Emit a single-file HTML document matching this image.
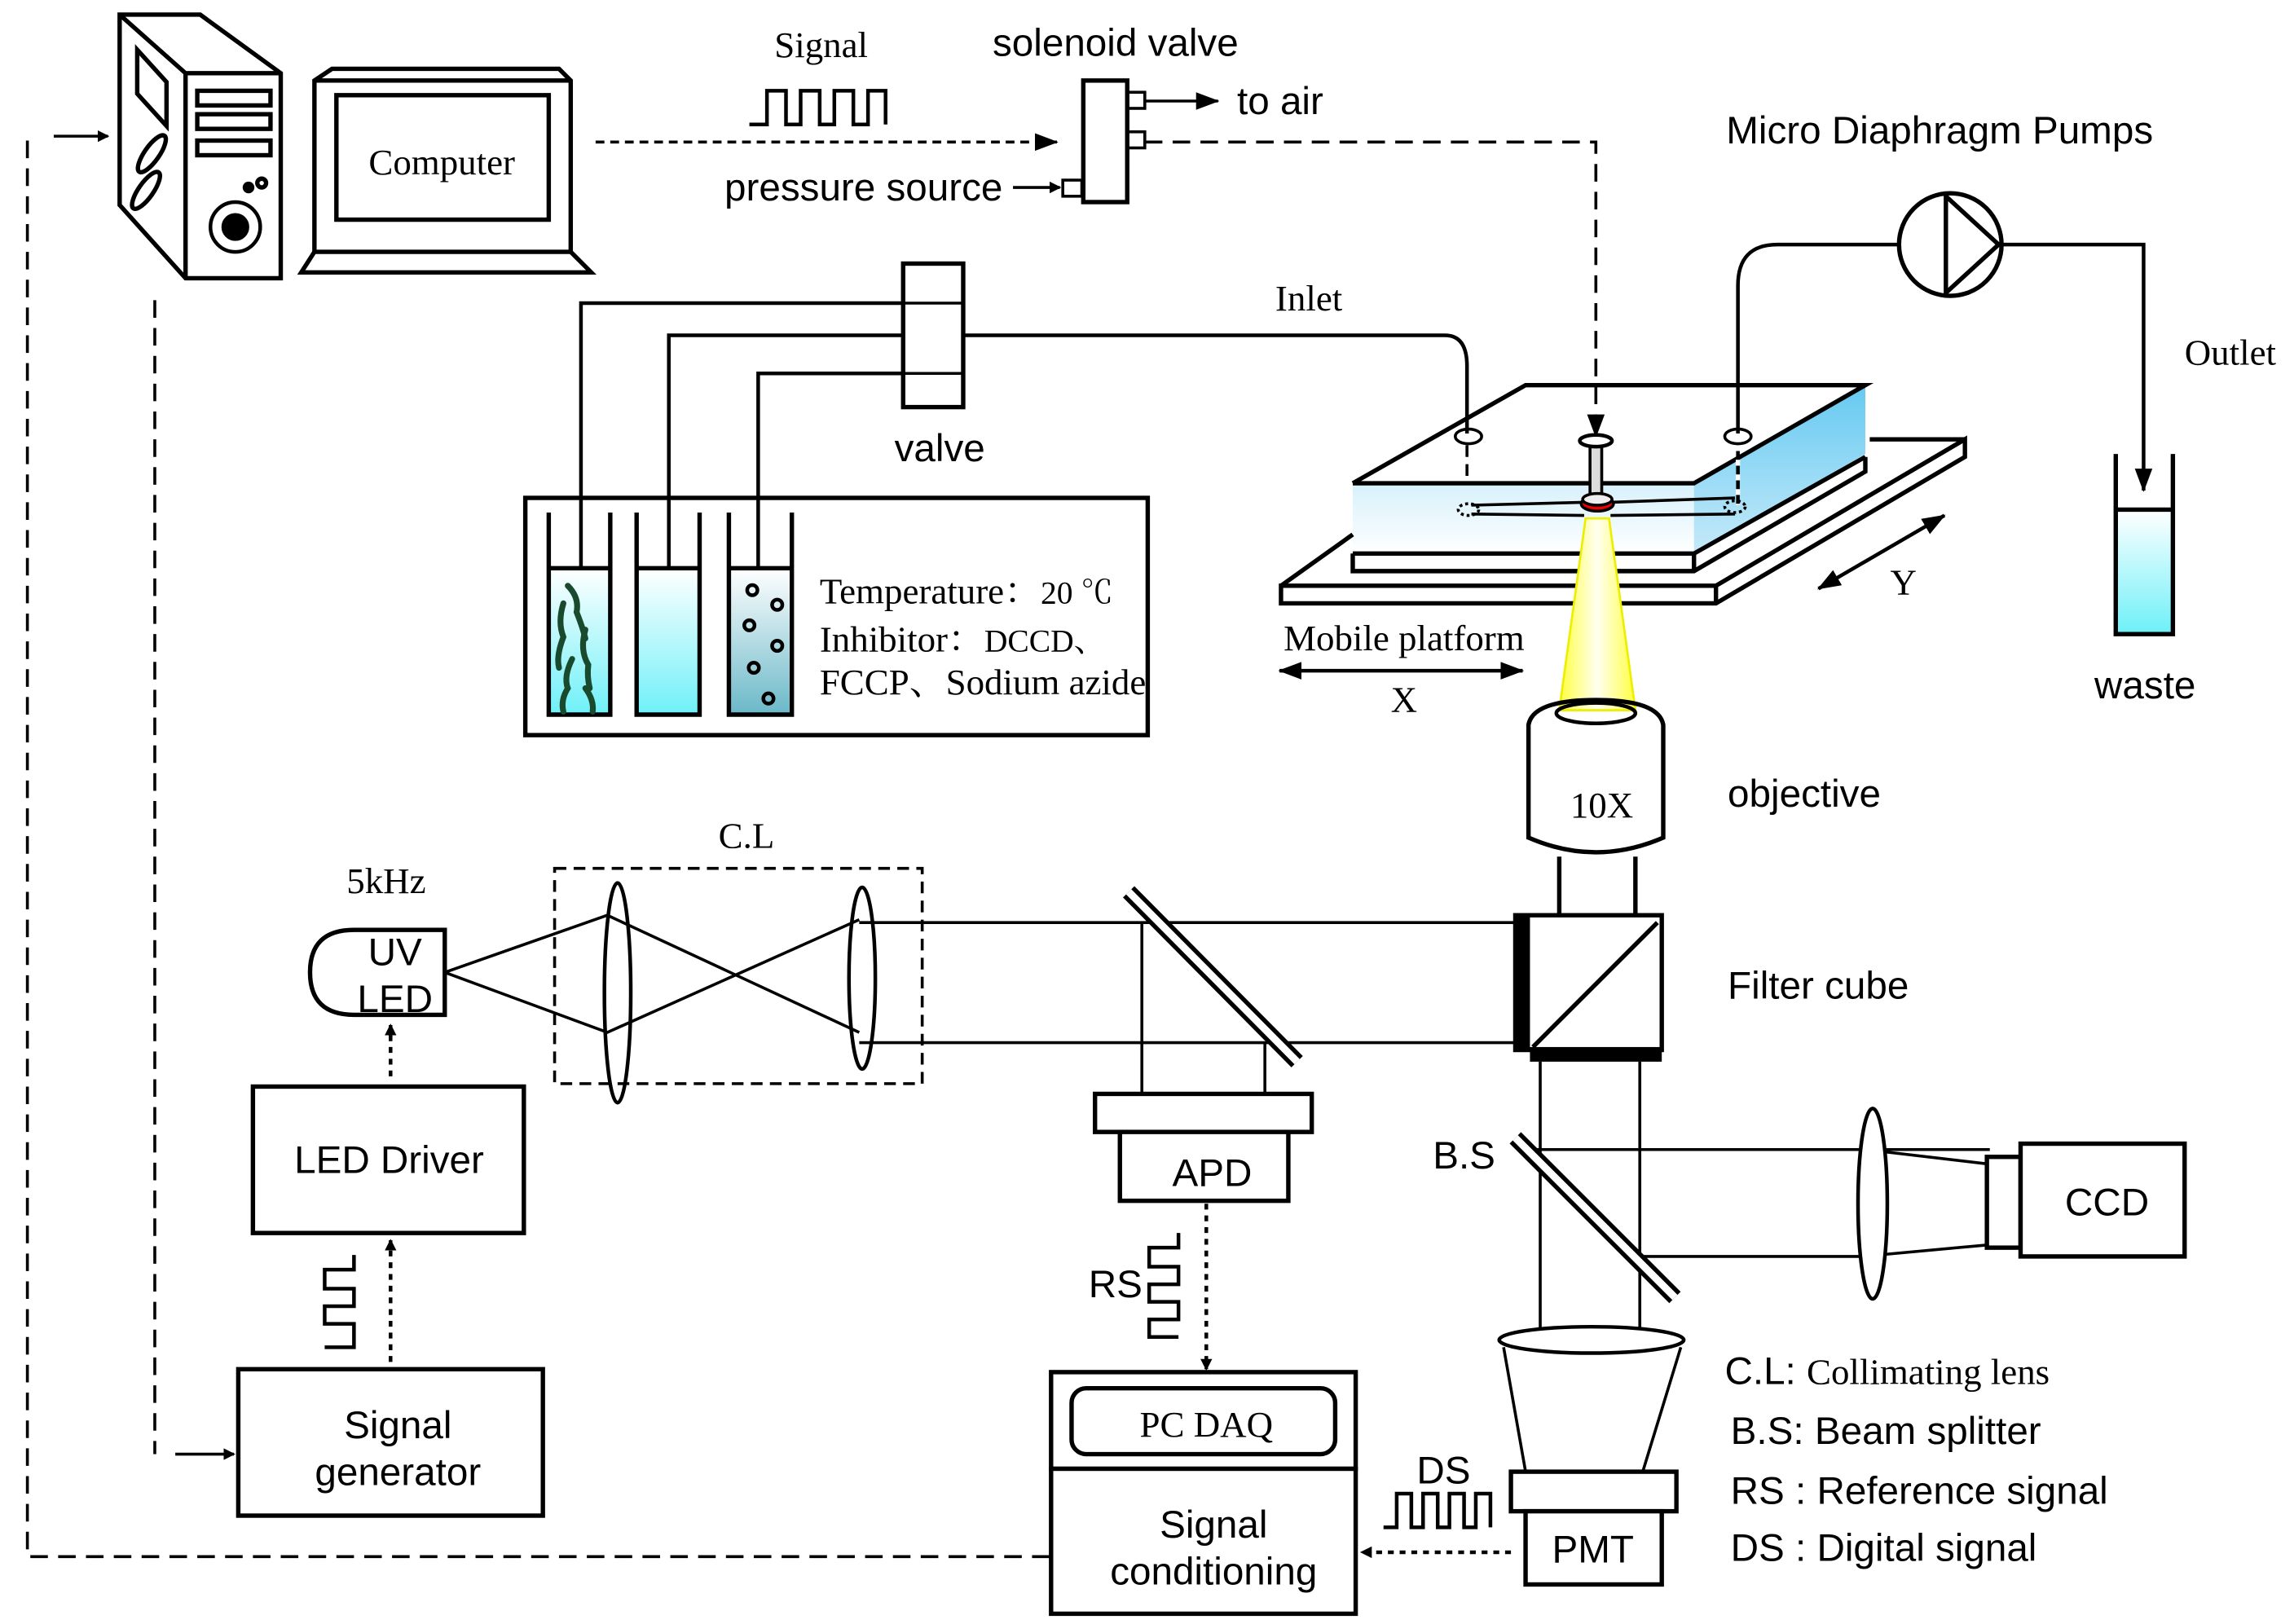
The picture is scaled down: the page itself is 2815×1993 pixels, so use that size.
<!DOCTYPE html>
<html><head><meta charset="utf-8"><style>
html,body{margin:0;padding:0;background:#fff}
svg{display:block}
.s{font-family:"Liberation Sans",sans-serif;font-size:26.5px}
.r{font-family:"Liberation Serif","Noto Serif CJK SC",serif;font-size:25px}
</style></head><body>
<svg width="2815" height="1993" viewBox="0 0 1563 1109" xmlns="http://www.w3.org/2000/svg">
<defs>
<marker id="a" markerWidth="8" markerHeight="8" refX="7" refY="4" orient="auto" markerUnits="userSpaceOnUse" viewBox="0 0 8 8"><path d="M0,0 L8,4 L0,8 z" fill="#000"/></marker>
<marker id="A" markerWidth="16" markerHeight="12" refX="15" refY="6" orient="auto" markerUnits="userSpaceOnUse"><path d="M0,0 L16,6 L0,12 z" fill="#000"/></marker>
<marker id="As" markerWidth="16" markerHeight="12" refX="1" refY="6" orient="auto" markerUnits="userSpaceOnUse"><path d="M16,0 L0,6 L16,12 z" fill="#000"/></marker>
<linearGradient id="cy" x1="0" y1="0" x2="0" y2="1"><stop offset="0" stop-color="#fff"/><stop offset="1" stop-color="#6ff0f8"/></linearGradient>
<linearGradient id="dk" x1="0" y1="0" x2="0" y2="1"><stop offset="0" stop-color="#fff"/><stop offset="1" stop-color="#6ab8c8"/></linearGradient>
<linearGradient id="bl" x1="0" y1="0" x2="0" y2="1"><stop offset="0" stop-color="#9fdcf5"/><stop offset="1" stop-color="#fff"/></linearGradient>
<linearGradient id="bl2" x1="0" y1="0" x2="0" y2="1"><stop offset="0" stop-color="#3fbcef"/><stop offset="1" stop-color="#9fdcf5"/></linearGradient>
<linearGradient id="yl" x1="0" y1="0" x2="1" y2="0"><stop offset="0" stop-color="#ffff40"/><stop offset="0.5" stop-color="#fffff0"/><stop offset="1" stop-color="#ffff40"/></linearGradient>
</defs>
<g fill="none" stroke="#000" stroke-width="3">
<path d="M715,1063 H17 V93" stroke-dasharray="12,7" stroke-width="2"/>
<line x1="35" y1="93" x2="72" y2="93" stroke-width="2" marker-end="url(#a)"/>
<path d="M104,205 V993" stroke-dasharray="12,7" stroke-width="2"/>
<line x1="118" y1="993" x2="158" y2="993" stroke-width="2" marker-end="url(#a)"/>
<path d="M80,10 H135 L190,50 V190 H125 L80,140 Z"/>
<path d="M80,10 L125,50 H190 M125,50 V190"/>
<path d="M92,34 L112,56 V86 L92,64 Z"/>
<ellipse cx="102" cy="105" rx="5" ry="15" transform="rotate(35 102 105)"/>
<ellipse cx="98" cy="130" rx="5" ry="15" transform="rotate(35 98 130)"/>
<rect x="133" y="62" width="50" height="10"/><rect x="133" y="78" width="50" height="10"/><rect x="133" y="96" width="50" height="10"/>
<circle cx="159" cy="155" r="17" stroke-width="2.5"/><circle cx="159" cy="155" r="8" fill="#000"/>
<circle cx="168" cy="128" r="2.5" fill="#000"/><circle cx="177" cy="125" r="3"/>
<path d="M213,172 V55 L225,47 H380 L388,55 V172 M213,55 H388"/>
<rect x="228" y="65" width="145" height="85"/>
<path d="M213,172 H388 L402,186 H204 Z"/>
<line x1="405" y1="97" x2="720" y2="97" stroke-dasharray="6,4" stroke-width="2" marker-end="url(#A)"/>
<path d="M510,85 H522 V62 H535 V85 H545 V62 H558 V85 H568 V62 H581 V85 H591 V62 H603 V85" stroke-width="2.5"/>
<rect x="738" y="55" width="30" height="83"/>
<rect x="768" y="63" width="12" height="11" stroke-width="2"/>
<rect x="768" y="90" width="12" height="11" stroke-width="2"/>
<line x1="780" y1="69" x2="830" y2="69" stroke-width="2" marker-end="url(#A)"/>
<rect x="724" y="123" width="13" height="11" stroke-width="2"/>
<line x1="690" y1="128" x2="722" y2="128" stroke-width="2" marker-end="url(#a)"/>
<path d="M780,97 H1088 V298" stroke-dasharray="12,7" stroke-width="2" marker-end="url(#A)"/>
<rect x="615" y="180" width="41" height="98"/>
<line x1="615" y1="207" x2="656" y2="207" stroke-width="2"/><line x1="615" y1="255" x2="656" y2="255" stroke-width="2"/>
<path d="M395,388 V207 H615 M455,388 V229 H615 M516,388 V255 H615" stroke-width="2.5"/>
<path d="M656,229 H985 Q1000,229 1000,250 V296" stroke-width="2.5"/>
<path d="M1000,304 V345" stroke-dasharray="8,5" stroke-width="2" marker-end="url(#A)"/>
<rect x="357" y="340" width="425" height="162"/>
</g>
<rect x="374" y="388" width="41" height="100" fill="url(#cy)"/>
<rect x="434" y="388" width="42" height="100" fill="url(#cy)"/>
<rect x="497" y="388" width="42" height="100" fill="url(#dk)"/>
<g fill="none" stroke="#000" stroke-width="3">
<path d="M373,350 V488 H415 V350 M373,388 H415"/>
<path d="M433,350 V488 H476 V350 M433,388 H476"/>
<path d="M496,350 V488 H539 V350 M496,388 H539"/>
</g>
<g fill="none" stroke="#1a4a2e" stroke-width="4" stroke-linecap="round">
<path d="M386,400 Q394,408 392,418 Q396,428 398,436"/>
<path d="M383,412 Q379,425 383,435 Q378,448 380,456"/>
<path d="M398,430 Q394,444 400,454 Q399,462 401,470"/>
<path d="M389,450 Q383,462 386,470 Q381,478 383,486"/>
<path d="M398,470 Q404,478 403,486"/>
</g>
<g fill="none" stroke="#000" stroke-width="2.5">
<circle cx="512" cy="403" r="3.5"/><circle cx="529" cy="413" r="3.5"/><circle cx="510" cy="427" r="3.5"/><circle cx="529" cy="441" r="3.5"/><circle cx="513" cy="456" r="3.5"/><circle cx="523" cy="477" r="3.5"/>
</g>
<path d="M922,330 H1155 L1272,263 V310 L1155,378 H922 Z" fill="url(#bl)"/>
<path d="M1155,330 L1272,263 V310 L1155,378 Z" fill="url(#bl2)" opacity="0.6"/>
<g fill="none" stroke="#000" stroke-width="3">
<path d="M922,330 L1040,263 H1272 L1155,330 H922"/>
<path d="M922,378 H1155 L1272,312 M922,378 V390 H1155 L1272,322 V312 M1155,378 V390"/>
<path d="M873,400 L922,365 M873,400 H1170 L1340,300 V312 L1170,412 H873 Z M1170,400 V412 M1275,300 H1340"/>
<path d="M1185,304 V345" stroke-width="2.5"/>
</g>
<path d="M1185,304 V345" stroke="#fff" stroke-width="3" stroke-dasharray="4,6"/>
<path d="M1295,167 H1212 Q1185,167 1185,195 V296" fill="none" stroke="#000" stroke-width="2.5"/>
<g fill="none" stroke="#000" stroke-width="2">
<ellipse cx="1001" cy="298" rx="9" ry="5"/><ellipse cx="1185" cy="298" rx="9" ry="5"/>
<path d="M1003,345 L1080,343 M1003,351 L1080,352 M1098,343 L1183,340 M1098,352 L1183,351"/>
<ellipse cx="1001" cy="348" rx="7" ry="4" stroke-dasharray="2,2"/><ellipse cx="1183" cy="346" rx="7" ry="4" stroke-dasharray="2,2"/>
</g>
<rect x="1084" y="303" width="8" height="38" fill="#ddd" stroke="#000" stroke-width="2"/>
<ellipse cx="1088" cy="301" rx="11" ry="4" fill="#fff" stroke="#000" stroke-width="2.5"/>
<ellipse cx="1089" cy="344" rx="11" ry="5" fill="#e00" stroke="#000" stroke-width="2"/>
<ellipse cx="1089" cy="341" rx="10" ry="4" fill="#eee" stroke="#000" stroke-width="2"/>
<polygon points="1081,354 1097,354 1115,485 1063,485" fill="url(#yl)" stroke="#ee0" stroke-width="1.5"/>
<g stroke="#000" stroke-width="2.5" fill="none">
<line x1="1240" y1="402" x2="1326" y2="352" marker-end="url(#A)" marker-start="url(#As)"/>
<line x1="872" y1="458" x2="1038" y2="458" marker-end="url(#A)" marker-start="url(#As)"/>
</g>
<g fill="none" stroke="#000" stroke-width="3">
<circle cx="1330" cy="167" r="35"/>
<path d="M1327,134 L1363,167 L1327,200 Z"/>
<path d="M1365,167 H1462 V335" stroke-width="2.5" marker-end="url(#A)"/>
</g>
<rect x="1444" y="348" width="38" height="84" fill="url(#cy)"/>
<path d="M1443,310 V433 H1482 V310 M1443,348 H1482" fill="none" stroke="#000" stroke-width="3"/>
<g fill="none" stroke="#000" stroke-width="3">
<path d="M1042,495 Q1045,478 1088,478 Q1131,478 1134,495 V572 Q1088,592 1042,572 Z"/>
<ellipse cx="1088" cy="487" rx="27" ry="7" stroke-width="2.5"/>
<path d="M1063,585 V625 M1115,585 V625"/>
<rect x="1033" y="625" width="100" height="92"/>
<line x1="1045" y1="715" x2="1130" y2="630"/>
</g>
<rect x="1033" y="625" width="10" height="92" fill="#000"/>
<rect x="1043" y="715" width="90" height="10" fill="#000"/>
<g fill="none" stroke="#000" stroke-width="2">
<rect x="377" y="593" width="251" height="147" stroke-dasharray="8,5"/>
<path d="M302,664 L413,625 L585,705 M302,664 L413,705 L585,628 M585,630 H1033 M585,712 H1033"/>
<ellipse cx="420" cy="678" rx="9" ry="75" stroke-width="2.5"/>
<ellipse cx="587" cy="668" rx="9" ry="62" stroke-width="2.5"/>
<path d="M778,630 V747 M862,712 V747"/>
<path d="M1050,725 V910 M1118,725 V910"/>
<path d="M1040,785 H1357 M1120,858 H1270 L1357,850 M1272,785 L1357,795"/>
<ellipse cx="1277" cy="822" rx="10" ry="65" stroke-width="2.5" fill="#fff"/>
<ellipse cx="1085" cy="915" rx="63" ry="9" stroke-width="2.5" fill="#fff"/>
<path d="M1025,920 L1040,1005 M1146,920 L1120,1005"/>
</g>
<line x1="769" y1="609" x2="884" y2="725" stroke="#000" stroke-width="11"/>
<line x1="769" y1="609" x2="884" y2="725" stroke="#fff" stroke-width="5"/>
<line x1="1033" y1="777" x2="1142" y2="886" stroke="#000" stroke-width="11"/>
<line x1="1033" y1="777" x2="1142" y2="886" stroke="#fff" stroke-width="5"/>
<g fill="#fff" stroke="#000" stroke-width="3">
<path d="M302,635 V693 H240 Q210,693 210,664 Q210,635 240,635 Z"/>
<rect x="746" y="747" width="148" height="26"/><rect x="763" y="773" width="115" height="47"/>
<rect x="1355" y="790" width="23" height="62"/><rect x="1378" y="781" width="112" height="77"/>
<rect x="1030" y="1005" width="113" height="27"/><rect x="1040" y="1032" width="93" height="50"/>
<rect x="716" y="937" width="208" height="66"/><rect x="730" y="948" width="180" height="45" rx="10"/>
<rect x="716" y="1003" width="208" height="99"/>
<rect x="171" y="742" width="185" height="100"/>
<rect x="161" y="935" width="208" height="100"/>
</g>
<g fill="none" stroke="#000" stroke-width="2.5">
<line x1="265" y1="735" x2="265" y2="700" stroke-dasharray="4,4" marker-end="url(#a)"/>
<line x1="265" y1="930" x2="265" y2="847" stroke-dasharray="4,4" marker-end="url(#a)"/>
<path d="M240,857 V867 H220 V880 H240 V892 H220 V904 H240 V920 H220"/>
<line x1="822" y1="822" x2="822" y2="935" stroke-dasharray="4,4" marker-end="url(#a)"/>
<path d="M803,842 V852 H783 V865 H803 V877 H783 V889 H803 V901 H783 V913 H803"/>
<path d="M943,1043 H952 V1020 H962 V1043 H970 V1020 H980 V1043 H988 V1020 H998 V1043 H1006 V1020 H1016 V1043"/>
<line x1="1030" y1="1060" x2="928" y2="1060" stroke-dasharray="4,4" marker-end="url(#a)"/>
</g>
<g fill="#000">
<text class="r" x="300" y="119" text-anchor="middle" font-size="28">Computer</text>
<text class="r" x="559" y="39" text-anchor="middle" font-size="26">Signal</text>
<text class="s" x="760" y="38" text-anchor="middle">solenoid valve</text>
<text class="s" x="843" y="78">to air</text>
<text class="s" x="493" y="137">pressure source</text>
<text class="s" x="1177" y="98">Micro Diaphragm Pumps</text>
<text class="r" x="1490" y="249">Outlet</text>
<text class="r" x="892" y="212" text-anchor="middle">Inlet</text>
<text class="s" x="640" y="315" text-anchor="middle">valve</text>
<text class="r" x="558" y="412" font-size="26">Temperature：<tspan font-size="22">20 ℃</tspan></text>
<text class="r" x="558" y="445" font-size="26">Inhibitor：<tspan font-size="22">DCCD、</tspan></text>
<text class="r" x="558" y="474" font-size="22">FCCP、Sodium azide</text>
<text class="r" x="957" y="444" text-anchor="middle">Mobile platform</text>
<text class="r" x="957" y="486" text-anchor="middle">X</text>
<text class="r" x="1298" y="406" text-anchor="middle">Y</text>
<text class="s" x="1463" y="477" text-anchor="middle">waste</text>
<text class="r" x="1092" y="558" text-anchor="middle" font-size="21">10X</text>
<text class="s" x="1178" y="551">objective</text>
<text class="s" x="1178" y="682">Filter cube</text>
<text class="r" x="508" y="579" text-anchor="middle">C.L</text>
<text class="r" x="262" y="610" text-anchor="middle">5kHz</text>
<text class="s" x="268" y="659" text-anchor="middle">UV</text>
<text class="s" x="268" y="691" text-anchor="middle">LED</text>
<text class="s" x="264" y="801" text-anchor="middle">LED Driver</text>
<text class="s" x="270" y="982" text-anchor="middle">Signal</text>
<text class="s" x="270" y="1014" text-anchor="middle">generator</text>
<text class="s" x="826" y="810" text-anchor="middle">APD</text>
<text class="s" x="760" y="886" text-anchor="middle">RS</text>
<text class="r" x="822" y="981" text-anchor="middle" font-size="26">PC DAQ</text>
<text class="s" x="827" y="1050" text-anchor="middle">Signal</text>
<text class="s" x="827" y="1082" text-anchor="middle">conditioning</text>
<text class="s" x="984" y="1013" text-anchor="middle">DS</text>
<text class="s" x="1086" y="1067" text-anchor="middle">PMT</text>
<text class="s" x="998" y="798" text-anchor="middle">B.S</text>
<text class="s" x="1437" y="830" text-anchor="middle">CCD</text>
<text class="s" x="1176" y="945">C.L: <tspan class="r">Collimating lens</tspan></text>
<text class="s" x="1180" y="986">B.S: Beam splitter</text>
<text class="s" x="1180" y="1027">RS : Reference signal</text>
<text class="s" x="1180" y="1066">DS : Digital signal</text>
</g>
</svg>
</body></html>
